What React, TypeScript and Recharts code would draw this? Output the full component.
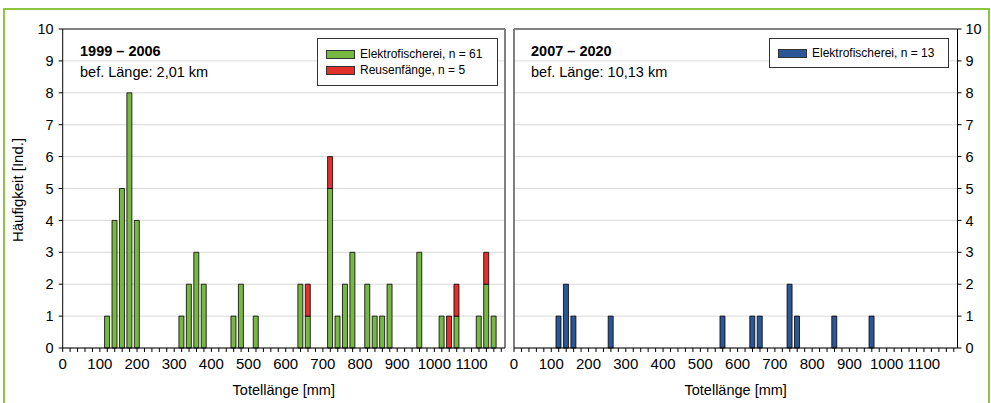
import React from 'react';
import { BarChart, Bar, XAxis, YAxis, CartesianGrid, ReferenceLine } from 'recharts';

const leftBins = [120, 140, 160, 180, 200, 320, 340, 360, 380, 460, 480, 520, 640, 660, 720, 740, 760, 780, 820, 840, 860, 880, 960, 1020, 1040, 1060, 1120, 1140, 1160];
const leftElektro = [1, 4, 5, 8, 4, 1, 2, 3, 2, 1, 2, 1, 2, 1, 5, 1, 2, 3, 2, 1, 1, 2, 3, 1, 0, 1, 1, 2, 1];
const leftReusen = [0, 0, 0, 0, 0, 0, 0, 0, 0, 0, 0, 0, 0, 1, 1, 0, 0, 0, 0, 0, 0, 0, 0, 0, 1, 1, 0, 1, 0];

const rightBins = [120, 140, 160, 260, 560, 640, 660, 740, 760, 860, 960];
const rightElektro = [1, 2, 1, 1, 1, 1, 1, 2, 1, 1, 1];

const xTicks: number[] = [];
for (let v = 0; v <= 1180; v += 20) xTicks.push(v);
const yTicks = [0, 1, 2, 3, 4, 5, 6, 7, 8, 9, 10];

const leftData = leftBins.map((x, i) => ({ x, elektro: leftElektro[i], reusen: leftReusen[i] }));
const rightData = rightBins.map((x, i) => ({ x, elektro: rightElektro[i] }));

const GREEN = '#77B843';
const RED = '#E3302A';
const BLUE = '#2B5797';
const FONT = '"Liberation Sans", Arial, sans-serif';

const fmtX = (v: number) => (v % 100 === 0 ? String(v) : '');

const abs = (s: React.CSSProperties): React.CSSProperties => ({ position: 'absolute', whiteSpace: 'nowrap', ...s });

export default function App() {
  return (
    <div style={{ position: 'absolute', left: 0, top: 0, width: 991, height: 403, overflow: 'hidden', background: '#fff', fontFamily: FONT, color: '#000' }}>
      <div style={abs({ left: 3, top: 8, width: 983, height: 420, border: '2px solid #8CC63E' })} />

      <div style={abs({ left: 0, top: 0 })}>
        <BarChart width={520} height={403} data={leftData} margin={{ top: 29, right: 15, bottom: 25, left: 0 }} barSize={5}>
          <CartesianGrid vertical={false} stroke="#D9D9D9" />
          <XAxis type="number" dataKey="x" domain={[0, 1190]} ticks={xTicks} interval={0} tickFormatter={fmtX}
            height={30} tickSize={4} tickMargin={6} stroke="#000" tick={{ fontSize: 15, fill: '#000' }} allowDataOverflow />
          <YAxis domain={[0, 10]} ticks={yTicks} interval={0} width={62.7} tickSize={4} tickMargin={5}
            stroke="#000" tick={{ fontSize: 14.5, fill: '#000' }} />
          <Bar dataKey="elektro" stackId="a" fill={GREEN} stroke="#000" strokeWidth={0.8} isAnimationActive={false} />
          <Bar dataKey="reusen" stackId="a" fill={RED} stroke="#000" strokeWidth={0.8} isAnimationActive={false} />
          <ReferenceLine y={10} stroke="#808080" strokeWidth={2} ifOverflow="visible" />
          <ReferenceLine x={1190} stroke="#808080" strokeWidth={2} ifOverflow="visible" />
        </BarChart>
      </div>

      <div style={abs({ left: 500, top: 0 })}>
        <BarChart width={491} height={403} data={rightData} margin={{ top: 29, right: 0, bottom: 25, left: 14 }} barSize={5}>
          <CartesianGrid vertical={false} stroke="#D9D9D9" />
          <XAxis type="number" dataKey="x" domain={[0, 1190]} ticks={xTicks} interval={0} tickFormatter={fmtX}
            height={30} tickSize={4} tickMargin={6} stroke="#000" tick={{ fontSize: 15, fill: '#000' }} allowDataOverflow />
          <YAxis orientation="right" domain={[0, 10]} ticks={yTicks} interval={0} width={33.5} tickSize={4} tickMargin={4}
            stroke="#000" tick={{ fontSize: 14.5, fill: '#000' }} />
          <Bar dataKey="elektro" fill={BLUE} stroke="#000" strokeWidth={0.8} isAnimationActive={false} />
          <ReferenceLine y={10} stroke="#808080" strokeWidth={2} ifOverflow="visible" />
          <ReferenceLine x={0} stroke="#808080" strokeWidth={2} ifOverflow="visible" />
        </BarChart>
      </div>

      <div style={abs({ left: 17, top: 190, fontSize: 15, lineHeight: 1, transform: 'translate(-50%, -50%) rotate(-90deg)' })}>Häufigkeit [Ind.]</div>
      <div style={abs({ left: 283.8, top: 390, fontSize: 14.5, lineHeight: 1, transform: 'translate(-50%, -50%)' })}>Totellänge [mm]</div>
      <div style={abs({ left: 735.7, top: 390, fontSize: 14.5, lineHeight: 1, transform: 'translate(-50%, -50%)' })}>Totellänge [mm]</div>

      <div style={abs({ left: 80, top: 51, fontSize: 14.5, lineHeight: 1, fontWeight: 'bold', transform: 'translateY(-50%)' })}>1999 – 2006</div>
      <div style={abs({ left: 80, top: 72, fontSize: 14.5, lineHeight: 1, transform: 'translateY(-50%)' })}>bef. Länge: 2,01 km</div>
      <div style={abs({ left: 531, top: 51, fontSize: 14.5, lineHeight: 1, fontWeight: 'bold', transform: 'translateY(-50%)' })}>2007 – 2020</div>
      <div style={abs({ left: 531, top: 72, fontSize: 14.5, lineHeight: 1, transform: 'translateY(-50%)' })}>bef. Länge: 10,13 km</div>

      <div style={abs({ left: 317, top: 38, width: 179, height: 46, border: '1px solid #333', background: '#fff' })} />
      <div style={abs({ left: 326, top: 50, width: 27, height: 7, background: GREEN, border: '1px solid #333' })} />
      <div style={abs({ left: 360, top: 54, fontSize: 12, lineHeight: 1, transform: 'translateY(-50%)' })}>Elektrofischerei, n = 61</div>
      <div style={abs({ left: 326, top: 66, width: 27, height: 7, background: RED, border: '1px solid #333' })} />
      <div style={abs({ left: 360, top: 70, fontSize: 12, lineHeight: 1, transform: 'translateY(-50%)' })}>Reusenfänge, n = 5</div>

      <div style={abs({ left: 769, top: 38, width: 178, height: 28, border: '1px solid #333', background: '#fff' })} />
      <div style={abs({ left: 778, top: 49, width: 27, height: 7, background: BLUE, border: '1px solid #333' })} />
      <div style={abs({ left: 812, top: 53, fontSize: 12, lineHeight: 1, transform: 'translateY(-50%)' })}>Elektrofischerei, n = 13</div>
    </div>
  );
}
